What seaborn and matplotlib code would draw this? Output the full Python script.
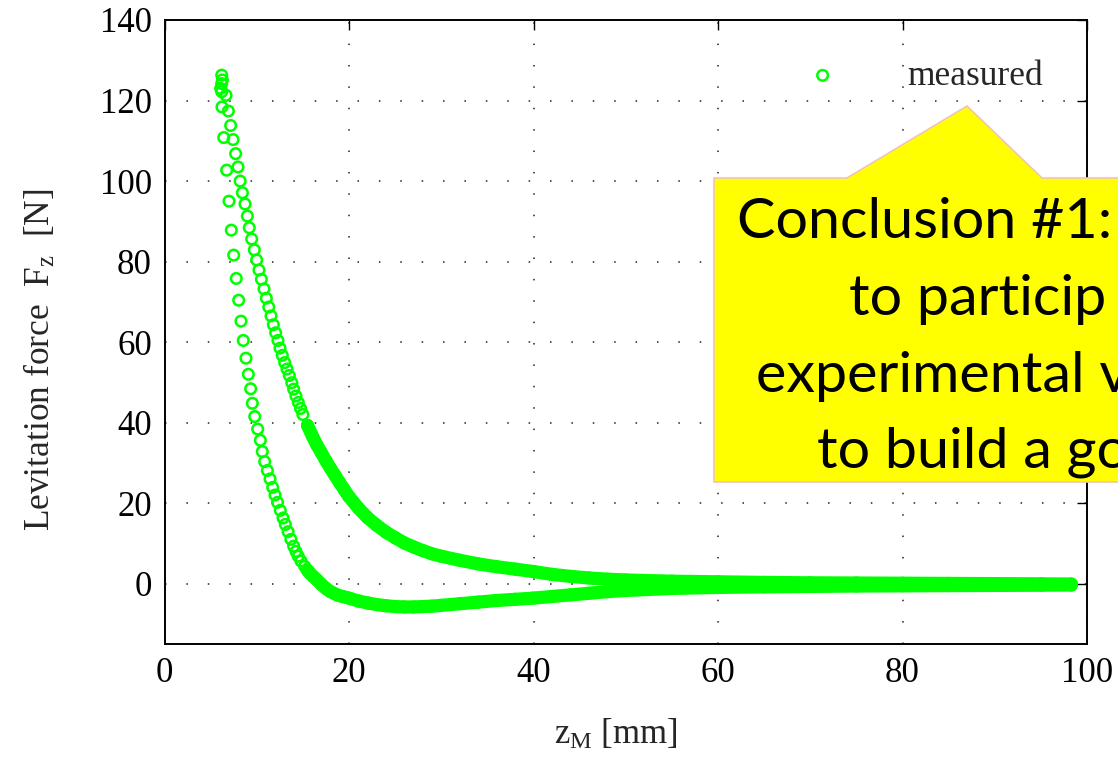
import numpy as np
import matplotlib
matplotlib.use("Agg")
import matplotlib.pyplot as plt
import seaborn as sns
from matplotlib.patches import Polygon

# branch with the larger force
upper_z = [6.20, 6.27, 6.20, 6.09, 6.20, 6.67, 6.92, 7.17, 7.43, 7.71, 7.97, 8.20,
           8.44, 8.73, 8.98, 9.19, 9.45, 9.74, 9.99, 10.24, 10.50, 10.79, 11.04,
           11.30, 11.55, 11.80, 12.05, 12.30, 12.52, 12.77, 13.03, 13.28, 13.53,
           13.8, 14.0, 14.25, 14.5, 14.75, 15.0, 15.5, 16.0, 16.5, 17.0, 17.5, 18.0,
           18.5, 19.0, 19.5, 20.0, 21, 22, 23, 24, 25, 26, 27, 28, 29, 30, 32, 34,
           36, 38, 40, 42, 44, 46, 48, 50, 55, 60, 65, 70, 75, 80, 85, 90, 95, 98.3]
upper_f = [126.3, 125.1, 124.2, 123.0, 122.2, 121.3, 117.4, 113.8, 110.3, 106.8, 103.5,
           100.0, 97.1, 94.3, 91.3, 88.4, 85.6, 82.9, 80.4, 77.9, 75.6, 73.2, 70.9,
           68.7, 66.5, 64.3, 62.3, 60.4, 58.5, 56.7, 54.9, 53.3, 51.7,
           49.9, 48.3, 46.6, 45.0, 43.5, 42.0, 39.3, 36.8, 34.5, 32.5, 30.5, 28.6,
           26.8, 25.0, 23.3, 21.6, 18.8, 16.4, 14.5, 12.8, 11.4, 10.1, 9.1, 8.2,
           7.4, 6.8, 5.8, 4.9, 4.2, 3.6, 3.0, 2.3, 1.8, 1.4, 1.1, 0.9, 0.6, 0.45,
           0.3, 0.2, 0.15, 0.1, 0.05, 0.0, -0.05, -0.1]

# branch with the smaller force
lower_z = [6.23, 6.42, 6.74, 6.99, 7.24, 7.50, 7.78, 8.04, 8.29, 8.54, 8.83, 9.09,
           9.34, 9.52, 9.78, 10.10, 10.39, 10.60, 10.86, 11.15, 11.44, 11.73, 11.98,
           12.25, 12.55, 12.85, 13.10, 13.40, 13.70, 14.0, 14.25, 14.5, 14.8, 15.2,
           15.5, 15.8, 16.1, 16.5, 17.0, 17.5, 18.0, 18.7, 19.3, 20.0, 21, 22, 23,
           24, 25, 26, 27, 28, 29, 30, 32, 34, 36, 38, 40, 42, 44, 46, 48, 50, 55,
           60, 65, 70, 75, 80, 85, 90, 95, 98.3]
lower_f = [118.4, 110.8, 102.7, 95.0, 87.8, 81.6, 75.8, 70.4, 65.2, 60.4, 56.0, 52.0,
           48.4, 44.8, 41.5, 38.4, 35.6, 32.8, 30.3, 28.1, 26.0, 23.9, 22.0,
           20.2, 18.2, 16.3, 14.7, 12.9, 11.0, 9.3, 8.0, 6.8, 5.6, 4.3,
           3.3, 2.5, 1.8, 1.0, -0.2, -1.2, -2.0, -2.8, -3.2, -3.6, -4.3, -4.8, -5.2,
           -5.5, -5.7, -5.8, -5.8, -5.7, -5.6, -5.4, -5.0, -4.6, -4.2, -3.9, -3.6,
           -3.2, -2.8, -2.4, -2.0, -1.7, -1.2, -0.95, -0.8, -0.7, -0.6, -0.55,
           -0.5, -0.45, -0.4, -0.35]

x_ticks = [0, 20, 40, 60, 80, 100]
y_ticks = [0, 20, 40, 60, 80, 100, 120, 140]
callout_lines = ["Conclusion #1:", "to particip", "experimental v", "to build a go"]

green = "#00ff00"

sns.set_theme(style="white")
plt.rcParams["font.family"] = ["Liberation Serif", "DejaVu Serif"]
plt.rcParams["mathtext.fontset"] = "custom"
plt.rcParams["mathtext.rm"] = "Liberation Serif"
plt.rcParams["mathtext.it"] = "Liberation Serif:italic"

W, H = 1118, 764
fig = plt.figure(figsize=(W / 100, H / 100), dpi=100)
ax = fig.add_axes([164.5 / W, 1 - 644 / H, (1087 - 164.5) / W, (644 - 20) / H])

# solid band where the rings sit on top of each other
for z, f in [(upper_z, upper_f), (lower_z, lower_f)]:
    z = np.asarray(z)
    f = np.asarray(f)
    m = z >= 15.5
    sns.lineplot(x=z[m], y=f[m], sort=False, estimator=None, color=green,
                 linewidth=9.5, solid_capstyle="round", ax=ax, legend=False)

sns.scatterplot(x=upper_z + lower_z, y=upper_f + lower_f, marker="o",
                s=58, facecolor="none", edgecolor=green, linewidth=1.8,
                label="measured", ax=ax, zorder=3)

ax.set_xlim(0, 100)
ax.set_ylim(-15, 140)
ax.set_xticks(x_ticks)
ax.set_yticks(y_ticks)
ax.tick_params(direction="in", length=7, width=1, labelsize=25, pad=9,
               top=True, right=True, colors="black")
for s in ax.spines.values():
    s.set_visible(True)
    s.set_linewidth(1.4)
    s.set_color("black")
ax.grid(True, linestyle=(0, (1, 13)), color="#222222", linewidth=1.1)

ax.set_xlabel(r"z$_{\mathrm{M}}$ [mm]", fontsize=25)
ax.set_ylabel(r"Levitation force  F$_{\mathrm{z}}$  [N]", fontsize=25.5)
ax.xaxis.set_label_coords(0.489, -0.118)
ax.yaxis.set_label_coords(-0.116, 0.455)

ax.legend(loc="center left", bbox_to_anchor=(0.675, 0.91), frameon=False,
          fontsize=25.5, handlelength=2, handletextpad=1.4, borderpad=0,
          borderaxespad=0, markerscale=1)

# callout box
pts = [(714, 178), (847, 178), (967, 106), (1042, 178), (1140, 178),
       (1140, 482), (714, 482)]
poly = Polygon([(x / W, 1 - y / H) for x, y in pts], closed=True,
               transform=fig.transFigure, facecolor="#ffff00",
               edgecolor="#f2c4b4", linewidth=1.2, zorder=10)
fig.patches.append(poly)

line_x = [737, 849, 756, 817]
line_y = [238, 315, 392, 468]
texts = []
for txt, lx, ly in zip(callout_lines, line_x, line_y):
    t = fig.text(lx / W, 1 - ly / H, txt, fontsize=47, family="Lato",
                 ha="left", va="baseline", color="black", zorder=11)
    texts.append(t)

# fit the first line to the width it has in the slide (about 375 px)
renderer = fig.canvas.get_renderer()
w = texts[0].get_window_extent(renderer).width
size = 47 * 375 / w
for t in texts:
    t.set_fontsize(size)

fig.savefig("out.png", dpi=100)
